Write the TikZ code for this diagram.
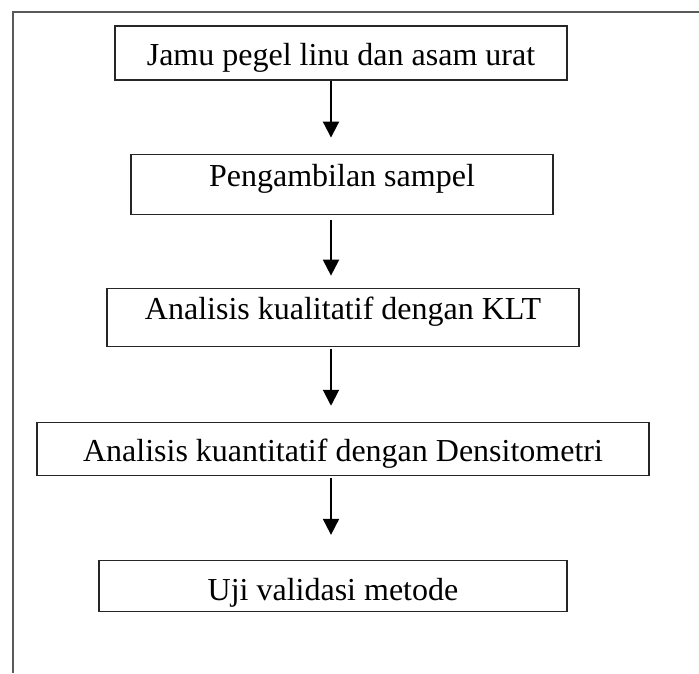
\documentclass[tikz,border=0pt]{standalone}
\usepackage{fontspec}
\setmainfont{Liberation Serif}
\usetikzlibrary{positioning,arrows.meta}

\begin{document}
\begin{tikzpicture}[
    x=1pt, y=1pt,
    node distance=73pt,
    box/.style={rectangle, draw=black!85, line width=1.1pt, inner xsep=0pt, inner ysep=0pt, text height=25pt, text depth=0pt, font=\fontsize{32pt}{38pt}\selectfont},
    arrow/.style={-{Triangle[width=16pt,length=16pt]}, line width=2pt},
    frame/.style={draw=black!65, line width=1.5pt}
]
    \useasboundingbox (0,0) rectangle (699,-673);
    \draw[frame] (13,-673) -- (13,-12) -- (699,-12);
    \coordinate (axis) at (331,0);

    \node[box, minimum width=452pt, minimum height=54pt] (jamu) at (341,-53) {Jamu pegel linu dan asam urat};
    \node[box, minimum width=422pt, minimum height=60pt, text depth=20pt, below=of jamu, xshift=1pt] (sampel) {Pengambilan sampel};
    \node[box, minimum width=472pt, minimum height=58pt, text depth=20pt, below=of sampel, xshift=1pt] (klt) {Analisis kualitatif dengan KLT};
    \node[box, minimum width=612pt, minimum height=53pt, below=75pt of klt] (densito) {Analisis kuantitatif dengan Densitometri};
    \node[box, minimum width=468pt, minimum height=51pt, text height=29pt, below=84pt of densito, xshift=-10pt] (validasi) {Uji validasi metode};

    \draw[arrow, shorten >=16pt] (jamu.south -| axis) -- (sampel.north -| axis);
    \draw[arrow, shorten <=5pt, shorten >=12pt] (sampel.south -| axis) -- (klt.north -| axis);
    \draw[arrow, shorten <=2pt, shorten >=16pt] (klt.south -| axis) -- (densito.north -| axis);
    \draw[arrow, shorten <=2pt, shorten >=25pt] (densito.south -| axis) -- (validasi.north -| axis);
\end{tikzpicture}
\end{document}
